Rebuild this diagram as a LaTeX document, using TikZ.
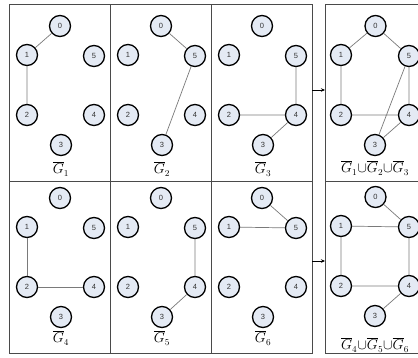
\documentclass[tikz,border=0pt]{standalone}
\usepackage{fontspec}
\newfontfamily\numfont{Liberation Sans}
\usetikzlibrary{arrows.meta}
\tikzset{
  vtx/.style={circle,draw=black,line width=1.3pt,fill=vfill,minimum size=21pt,inner sep=0pt,text=numgray,font=\numfont\fontsize{7.5}{7.5}\selectfont},
  edg/.style={draw=edgegray,line width=0.7pt},
  frame/.style={draw=framegray,line width=0.9pt},
  divider/.style={draw=framegray,line width=0.7pt},
  glabel/.style={inner sep=0pt,font=\fontsize{13.5}{13.5}\selectfont},
  arr/.style={draw=black,line width=0.7pt,-{Stealth[length=4pt,width=3.5pt]}}
}
\definecolor{vfill}{HTML}{E4EAF4}
\definecolor{numgray}{HTML}{333333}
\definecolor{edgegray}{HTML}{7A7A7A}
\definecolor{framegray}{HTML}{4A4A4A}
\newcommand{\gb}[1]{\overline{G}_{#1}}
\begin{document}
\begin{tikzpicture}[x=1pt,y=-1pt]
\useasboundingbox (0,0) rectangle (418,357);
\fill[white] (0,0) rectangle (418,357);
% frames
\draw[frame] (9,4) rectangle (312,353);
\draw[divider] (110,4) -- (110,353);
\draw[divider] (211,4) -- (211,353);
\draw[divider] (9,181) -- (312,181);
\draw[frame] (430,4) -- (325,4) -- (325,353) -- (430,353);
\draw[divider] (325,181) -- (430,181);
% arrows
\coordinate (s1) at (312,90); \coordinate (t1) at (325,90);
\coordinate (s2) at (312,261); \coordinate (t2) at (325,261);
\draw[arr] (s1) -- (t1);
\draw[arr] (s2) -- (t2);
% small panels
\foreach \p/\ox/\oy in {1/9/0,2/110/0,3/211/0,4/9/172,5/110/172,6/211/172}{
  \node[vtx] (p\p n0) at (\ox+51,\oy+26) {0};
  \node[vtx] (p\p n1) at (\ox+18,\oy+55) {1};
  \node[vtx] (p\p n5) at (\ox+85,\oy+56) {5};
  \node[vtx] (p\p n2) at (\ox+18,\oy+115) {2};
  \node[vtx] (p\p n4) at (\ox+85,\oy+115) {4};
  \node[vtx] (p\p n3) at (\ox+52,\oy+145) {3};
}
% union panels
\foreach \p/\oy in {7/0,8/171}{
  \node[vtx] (p\p n0) at (375.5,\oy+26) {0};
  \node[vtx] (p\p n1) at (341,\oy+55) {1};
  \node[vtx] (p\p n5) at (409,\oy+56) {5};
  \node[vtx] (p\p n2) at (341,\oy+115) {2};
  \node[vtx] (p\p n4) at (409,\oy+115) {4};
  \node[vtx] (p\p n3) at (375,\oy+145) {3};
}
% labels
\node[glabel] (l1) at (61,169) {$\gb{1}$};
\node[glabel] (l2) at (162,169) {$\gb{2}$};
\node[glabel] (l3) at (263,169) {$\gb{3}$};
\node[glabel] (l4) at (61,338) {$\gb{4}$};
\node[glabel] (l5) at (162,338) {$\gb{5}$};
\node[glabel] (l6) at (263,338) {$\gb{6}$};
\node[glabel] (l7) at (375,168) {$\gb{1}{\cup}\gb{2}{\cup}\gb{3}$};
\node[glabel] (l8) at (375,345) {$\gb{4}{\cup}\gb{5}{\cup}\gb{6}$};
% edges
\path[edg] (p1n0) -- (p1n1) (p1n1) -- (p1n2);
\path[edg] (p2n0) -- (p2n5) (p2n5) -- (p2n3);
\path[edg] (p3n2) -- (p3n4) (p3n4) -- (p3n5) (p3n4) -- (p3n3);
\path[edg] (p7n0) -- (p7n1) (p7n0) -- (p7n5) (p7n1) -- (p7n2) (p7n2) -- (p7n4) (p7n5) -- (p7n4) (p7n5) -- (p7n3) (p7n4) -- (p7n3);
\path[edg] (p4n1) -- (p4n2) (p4n2) -- (p4n4);
\path[edg] (p5n5) -- (p5n4) (p5n4) -- (p5n3);
\path[edg] (p6n0) -- (p6n5) (p6n1) -- (p6n5);
\path[edg] (p8n0) -- (p8n5) (p8n1) -- (p8n5) (p8n1) -- (p8n2) (p8n2) -- (p8n4) (p8n5) -- (p8n4) (p8n4) -- (p8n3);
\end{tikzpicture}
\end{document}
